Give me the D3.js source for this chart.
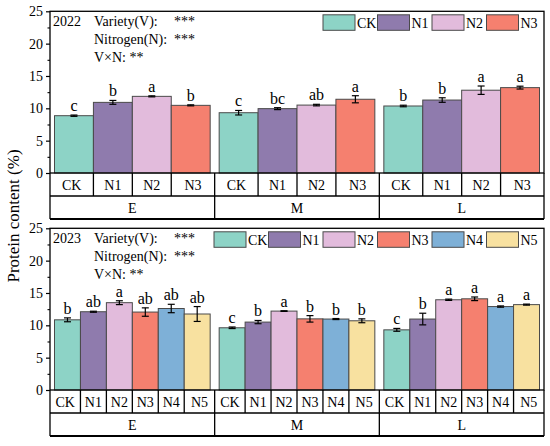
<!DOCTYPE html>
<html>
<head>
<meta charset="utf-8">
<script src="https://cdn.jsdelivr.net/npm/d3@7"></script>
<style>
  body { margin: 0; background: #fff; }
  svg { display: block; font-family: "Liberation Serif", "Times New Roman", serif; }
</style>
</head>
<body>
<div id="chart"></div>
<script>
// ---- data ----
const varieties = ["E", "M", "L"];
const treatments2022 = ["CK", "N1", "N2", "N3"];
const treatments2023 = ["CK", "N1", "N2", "N3", "N4", "N5"];

// mean protein content (%), one row per variety
const mean2022 = [
  [8.86, 10.92, 11.85, 10.46],
  [9.32, 9.95, 10.5, 11.4],
  [10.36, 11.28, 12.8, 13.2],
];
const err2022 = [
  [0.1, 0.3, 0.08, 0.08],
  [0.35, 0.15, 0.12, 0.55],
  [0.12, 0.35, 0.65, 0.22],
];
const sig2022 = [
  ["c", "b", "a", "b"],
  ["c", "bc", "ab", "a"],
  ["b", "b", "a", "a"],
];

const mean2023 = [
  [10.85, 12.1, 13.5, 12.05, 12.6, 11.75],
  [9.62, 10.5, 12.2, 11.0, 10.97, 10.7],
  [9.3, 10.97, 13.95, 14.1, 12.9, 13.2],
];
const err2023 = [
  [0.3, 0.08, 0.3, 0.65, 0.65, 1.15],
  [0.12, 0.25, 0.05, 0.5, 0.08, 0.3],
  [0.22, 0.9, 0.1, 0.28, 0.1, 0.08],
];
const sig2023 = [
  ["b", "ab", "a", "ab", "ab", "ab"],
  ["c", "b", "a", "b", "b", "b"],
  ["c", "b", "a", "a", "a", "a"],
];

const yTicks = [0, 5, 10, 15, 20, 25];
const annotations2022 = [["Variety(V):", "***"], ["Nitrogen(N):", "***"], ["V×N: **", ""]];
const annotations2023 = [["Variety(V):", "***"], ["Nitrogen(N):", "***"], ["V×N: **", ""]];

const TREAT_COLOR = {
  CK: "#8dd3c6",
  N1: "#8f7bad",
  N2: "#e2bbdc",
  N3: "#f5806f",
  N4: "#7eb0d7",
  N5: "#f8e1a0",
};

const width = 550;
const height = 446;
const left = 50;
const right = 544;

const svg = d3
  .select("#chart")
  .append("svg")
  .attr("width", width)
  .attr("height", height);

const xGroup = d3.scaleBand().domain(varieties).range([left, right]);

function drawPanel(cfg) {
  const g = svg.append("g");
  const y = d3.scaleLinear().domain([0, 25]).range([cfg.y0, cfg.y0 - 161.7]);
  const xInner = d3
    .scaleBand()
    .domain(cfg.treatments)
    .range([4.5, xGroup.bandwidth() - 4.5]);

  // bars
  varieties.forEach((v, vi) => {
    const gx = xGroup(v);
    const rows = cfg.treatments.map((t, ti) => ({
      t,
      mean: cfg.mean[vi][ti],
      err: cfg.err[vi][ti],
      sig: cfg.sig[vi][ti],
    }));

    const grp = g.append("g").attr("transform", `translate(${gx},0)`);

    grp
      .selectAll("rect")
      .data(rows)
      .join("rect")
      .attr("x", (d) => xInner(d.t))
      .attr("y", (d) => y(d.mean))
      .attr("width", xInner.bandwidth())
      .attr("height", (d) => y(0) - y(d.mean))
      .attr("fill", (d) => TREAT_COLOR[d.t])
      .attr("stroke", "#4a4a4a")
      .attr("stroke-width", 1);

    // error bars
    const eb = grp
      .selectAll("g.err")
      .data(rows)
      .join("g")
      .attr("class", "err")
      .attr("stroke", "#000")
      .attr("stroke-width", 1.2);
    const cx = (d) => xInner(d.t) + xInner.bandwidth() / 2;
    eb.append("line")
      .attr("x1", cx).attr("x2", cx)
      .attr("y1", (d) => y(d.mean - d.err))
      .attr("y2", (d) => y(d.mean + d.err));
    eb.append("line")
      .attr("x1", (d) => cx(d) - 3.5).attr("x2", (d) => cx(d) + 3.5)
      .attr("y1", (d) => y(d.mean + d.err))
      .attr("y2", (d) => y(d.mean + d.err));
    eb.append("line")
      .attr("x1", (d) => cx(d) - 3.5).attr("x2", (d) => cx(d) + 3.5)
      .attr("y1", (d) => y(d.mean - d.err))
      .attr("y2", (d) => y(d.mean - d.err));

    // significance letters
    grp
      .selectAll("text.sig")
      .data(rows)
      .join("text")
      .attr("class", "sig")
      .attr("x", cx)
      .attr("y", (d) => y(d.mean + d.err) - 4)
      .attr("text-anchor", "middle")
      .style("font-size", "16px")
      .text((d) => d.sig);
  });

  // frame
  g.append("rect")
    .attr("x", left)
    .attr("y", y(25))
    .attr("width", right - left)
    .attr("height", y(0) - y(25))
    .attr("fill", "none")
    .attr("stroke", "#000")
    .attr("stroke-width", 1.3);

  // y axis, major + minor ticks
  const axis = g
    .append("g")
    .attr("transform", `translate(${left},0)`)
    .call(d3.axisLeft(y).tickValues(yTicks).tickSize(4).tickPadding(3));
  axis.select(".domain").remove();
  axis.selectAll("line").attr("stroke-width", 1.2);
  axis.selectAll("text").style("font-size", "14px").style("font-family", "Liberation Serif").attr("fill", "#000");

  const minor = g
    .append("g")
    .attr("transform", `translate(${left},0)`)
    .call(d3.axisLeft(y).tickValues(d3.range(2.5, 25, 5)).tickSize(2.5).tickFormat(""));
  minor.select(".domain").remove();
  minor.selectAll("line").attr("stroke-width", 1.1);

  // category table under the plot
  const r1 = cfg.y0 + 23;
  const r2 = cfg.y0 + 46;
  const tbl = g.append("g").attr("stroke", "#000").attr("stroke-width", 1.3);
  tbl.append("line").attr("x1", left).attr("x2", right).attr("y1", r1).attr("y2", r1);
  tbl.append("line").attr("x1", left).attr("x2", right).attr("y1", r2).attr("y2", r2).attr("stroke-width", 2);
  tbl.append("line").attr("x1", left).attr("x2", left).attr("y1", cfg.y0).attr("y2", r2);
  tbl.append("line").attr("x1", right).attr("x2", right).attr("y1", cfg.y0).attr("y2", r2);

  varieties.forEach((v, vi) => {
    const gx = xGroup(v);
    const gw = xGroup.bandwidth();
    if (vi > 0) {
      tbl.append("line").attr("x1", gx).attr("x2", gx).attr("y1", cfg.y0).attr("y2", r2);
    }
    cfg.treatments.forEach((t, ti) => {
      if (ti > 0) {
        const bx = gx + xInner(t);
        tbl.append("line").attr("x1", bx).attr("x2", bx).attr("y1", cfg.y0).attr("y2", r1);
      }
      const cellL = ti === 0 ? gx : gx + xInner(t);
      const cellR = ti === cfg.treatments.length - 1 ? gx + gw : gx + xInner(t) + xInner.bandwidth();
      g.append("text")
        .attr("x", (cellL + cellR) / 2)
        .attr("y", cfg.y0 + 17)
        .attr("text-anchor", "middle")
        .style("font-size", "14px")
        .text(t);
    });
    g.append("text")
      .attr("x", gx + gw / 2)
      .attr("y", r1 + 17)
      .attr("text-anchor", "middle")
      .style("font-size", "14px")
      .text(v);
  });

  // year + anova annotation
  const top = y(25);
  g.append("text").attr("x", 53).attr("y", top + 15).style("font-size", "14px").text(cfg.year);
  cfg.notes.forEach((n, i) => {
    const ty = top + 15 + i * 17.7;
    g.append("text").attr("x", 94).attr("y", ty).style("font-size", "14px").text(n[0]);
    if (n[1]) g.append("text").attr("x", 174).attr("y", ty).style("font-size", "14px").text(n[1]);
  });

  // legend, right aligned in the top row
  const lg = g.append("g");
  const n = cfg.treatments.length;
  cfg.treatments.forEach((t, i) => {
    const lx = 486.5 - (n - 1 - i) * 54.5;
    lg.append("rect")
      .attr("x", lx)
      .attr("y", top + 3.5)
      .attr("width", 32)
      .attr("height", 15.5)
      .attr("fill", TREAT_COLOR[t])
      .attr("stroke", "#4a4a4a")
      .attr("stroke-width", 1);
    lg.append("text")
      .attr("x", lx + 34)
      .attr("y", top + 16.5)
      .style("font-size", "14px")
      .text(t);
  });
}

drawPanel({
  year: "2022",
  y0: 173,
  treatments: treatments2022,
  mean: mean2022,
  err: err2022,
  sig: sig2022,
  notes: annotations2022,
});

drawPanel({
  year: "2023",
  y0: 390,
  treatments: treatments2023,
  mean: mean2023,
  err: err2023,
  sig: sig2023,
  notes: annotations2023,
});

// shared y title
svg
  .append("text")
  .attr("transform", "translate(19,216) rotate(-90)")
  .attr("text-anchor", "middle")
  .style("font-size", "17px")
  .text("Protein content (%)");
</script>
</body>
</html>
